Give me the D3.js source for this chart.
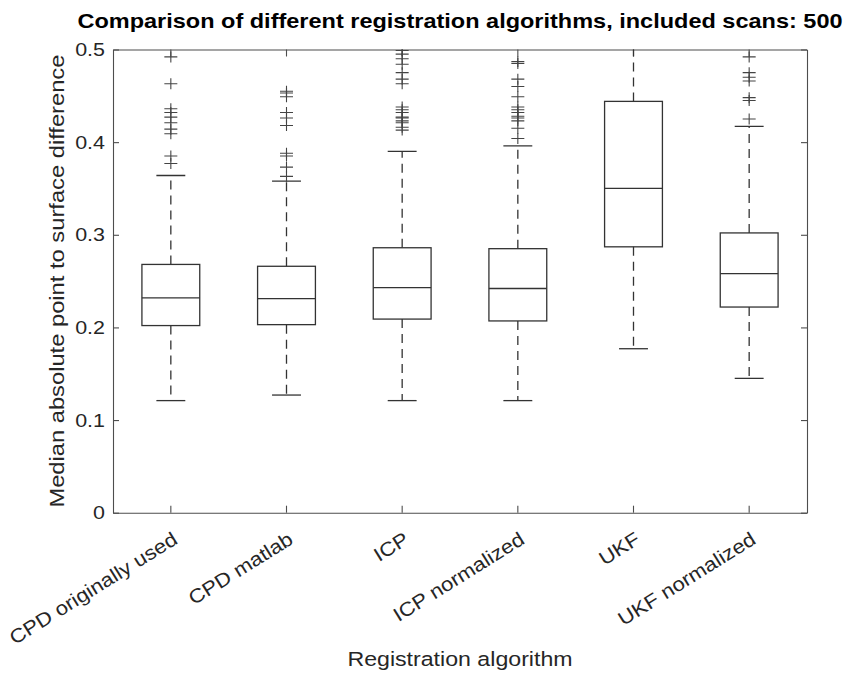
<!DOCTYPE html>
<html>
<head>
<meta charset="utf-8">
<script src="https://cdn.jsdelivr.net/npm/d3@7"></script>
<style>
  html, body { margin: 0; padding: 0; background: #ffffff; }
  svg { display: block; }
</style>
</head>
<body>
<svg id="chart" width="845" height="673"></svg>
<script>
// ---- data ----
const categories = ["CPD originally used", "CPD matlab", "ICP", "ICP normalized", "UKF", "UKF normalized"];
const q1Values = [0.202, 0.203, 0.209, 0.207, 0.287, 0.222];
const medianValues = [0.232, 0.231, 0.243, 0.242, 0.350, 0.258];
const q3Values = [0.268, 0.266, 0.286, 0.285, 0.444, 0.302];
const whiskerLow = [0.121, 0.127, 0.121, 0.121, 0.177, 0.145];
const whiskerHigh = [0.364, 0.358, 0.390, 0.396, 0.55, 0.417];
const outliersCPDorig = [0.492, 0.463, 0.436, 0.432, 0.427, 0.421, 0.414, 0.409, 0.385, 0.377];
const outliersCPDmatlab = [0.455, 0.453, 0.449, 0.432, 0.426, 0.418, 0.388, 0.385, 0.373, 0.363];
const outliersICP = [0.499, 0.495, 0.490, 0.484, 0.475, 0.468, 0.463, 0.438, 0.435, 0.432, 0.427, 0.426, 0.423, 0.421, 0.416, 0.413];
const outliersICPnorm = [0.487, 0.485, 0.468, 0.460, 0.449, 0.438, 0.435, 0.432, 0.428, 0.426, 0.423, 0.415, 0.404];
const outliersUKF = [];
const outliersUKFnorm = [0.492, 0.475, 0.470, 0.466, 0.448, 0.445, 0.425];
const outliers = [outliersCPDorig, outliersCPDmatlab, outliersICP, outliersICPnorm, outliersUKF, outliersUKFnorm];
const yTickValues = [0, 0.1, 0.2, 0.3, 0.4, 0.5];
const yTickLabels = ["0", "0.1", "0.2", "0.3", "0.4", "0.5"];
const titleText = "Comparison of different registration algorithms, included scans: 500";
const xLabelText = "Registration algorithm";
const yLabelText = "Median absolute point to surface difference";

// ---- layout ----
const plotLeft = 113, plotRight = 807, plotTop = 49.5, plotBottom = 512.7;
const FONT = "'Liberation Sans', Arial, Helvetica, sans-serif";
const SX = 1.13; // horizontal glyph stretch seen in reference
const axisColor = "#4d4d4d";
const textColor = "#262626";
const markColor = "#333333";

const svg = d3.select("#chart");
const x = d3.scaleBand().domain(categories).range([plotLeft, plotRight]);
const y = d3.scaleLinear().domain([0, 0.5]).range([plotBottom, plotTop]);
const bw = x.bandwidth();

function stretchText(sel, sx) {
  sel.each(function () {
    const t = d3.select(this);
    const tx = +t.attr("x") || 0, ty = +t.attr("y") || 0;
    t.attr("x", 0).attr("y", 0).attr("transform", `translate(${tx},${ty}) scale(${sx},1)`);
  });
}

// clip
svg.append("defs").append("clipPath").attr("id", "plotclip")
  .append("rect").attr("x", plotLeft).attr("y", plotTop)
  .attr("width", plotRight - plotLeft).attr("height", plotBottom - plotTop);

// ---- axes ----
const gLeft = svg.append("g").attr("transform", `translate(${plotLeft},0)`)
  .call(d3.axisLeft(y).tickValues(yTickValues).tickFormat((d, i) => yTickLabels[i])
    .tickSizeInner(-6).tickSizeOuter(0).tickPadding(8));
const gRight = svg.append("g").attr("transform", `translate(${plotRight},0)`)
  .call(d3.axisRight(y).tickValues(yTickValues).tickFormat("").tickSizeInner(-6).tickSizeOuter(0));
const gBottom = svg.append("g").attr("transform", `translate(0,${plotBottom})`)
  .call(d3.axisBottom(x).tickSizeInner(-7).tickSizeOuter(0));
const gTop = svg.append("g").attr("transform", `translate(0,${plotTop})`)
  .call(d3.axisTop(x).tickFormat("").tickSizeInner(-7).tickSizeOuter(0));

[gLeft, gRight, gBottom, gTop].forEach(g => {
  g.selectAll("path.domain").attr("stroke", axisColor).attr("stroke-width", 1.1);
  g.selectAll(".tick line").attr("stroke", axisColor).attr("stroke-width", 1.1);
});

gLeft.selectAll(".tick text")
  .attr("font-family", FONT).attr("font-size", 19).attr("fill", textColor);
stretchText(gLeft.selectAll(".tick text"), SX);

gBottom.selectAll(".tick text")
  .attr("font-family", FONT).attr("font-size", 19.5).attr("fill", textColor)
  .attr("text-anchor", "end").attr("dy", null).attr("x", 0).attr("y", 0)
  .attr("transform", `translate(8,30) rotate(-32) scale(${SX},1)`);

// ---- boxes ----
const plot = svg.append("g");
categories.forEach((c, i) => {
  const cx = x(c) + bw / 2;
  const g = plot.append("g").attr("clip-path", "url(#plotclip)");
  // whiskers
  g.append("line").attr("x1", cx).attr("x2", cx).attr("y1", y(q3Values[i])).attr("y2", y(whiskerHigh[i]))
    .attr("stroke", markColor).attr("stroke-width", 1.3).attr("stroke-dasharray", "9,6");
  g.append("line").attr("x1", cx).attr("x2", cx).attr("y1", y(q1Values[i])).attr("y2", y(whiskerLow[i]))
    .attr("stroke", markColor).attr("stroke-width", 1.3).attr("stroke-dasharray", "9,6");
  // caps
  [whiskerHigh[i], whiskerLow[i]].forEach(v => {
    g.append("line").attr("x1", cx - bw / 8).attr("x2", cx + bw / 8).attr("y1", y(v)).attr("y2", y(v))
      .attr("stroke", markColor).attr("stroke-width", 1.3);
  });
  // box
  g.append("rect").attr("x", cx - bw / 4).attr("width", bw / 2)
    .attr("y", y(q3Values[i])).attr("height", y(q1Values[i]) - y(q3Values[i]))
    .attr("fill", "none").attr("stroke", markColor).attr("stroke-width", 1.3);
  // median
  g.append("line").attr("x1", cx - bw / 4).attr("x2", cx + bw / 4)
    .attr("y1", y(medianValues[i])).attr("y2", y(medianValues[i]))
    .attr("stroke", markColor).attr("stroke-width", 1.3);
  // outliers
  outliers[i].forEach(v => {
    g.append("path")
      .attr("d", `M${cx - 6.5},${y(v)}H${cx + 6.5}M${cx},${y(v) - 5.5}V${y(v) + 5.5}`)
      .attr("stroke", "#444").attr("stroke-width", 1.1).attr("fill", "none");
  });
});

// ---- titles ----
svg.append("text").attr("text-anchor", "middle")
  .attr("transform", `translate(${(plotLeft + plotRight) / 2},28) scale(${SX},1)`)
  .attr("font-family", FONT).attr("font-size", 20.8).attr("font-weight", "bold").attr("fill", "#000")
  .text(titleText);

svg.append("text").attr("text-anchor", "middle")
  .attr("transform", `translate(${(plotLeft + plotRight) / 2},666) scale(${SX},1)`)
  .attr("font-family", FONT).attr("font-size", 20.5).attr("fill", textColor)
  .text(xLabelText);

svg.append("text").attr("text-anchor", "middle")
  .attr("transform", `translate(64,${(plotTop + plotBottom) / 2}) rotate(-90) scale(${SX},1)`)
  .attr("font-family", FONT).attr("font-size", 21).attr("fill", textColor)
  .text(yLabelText);
</script>
</body>
</html>
